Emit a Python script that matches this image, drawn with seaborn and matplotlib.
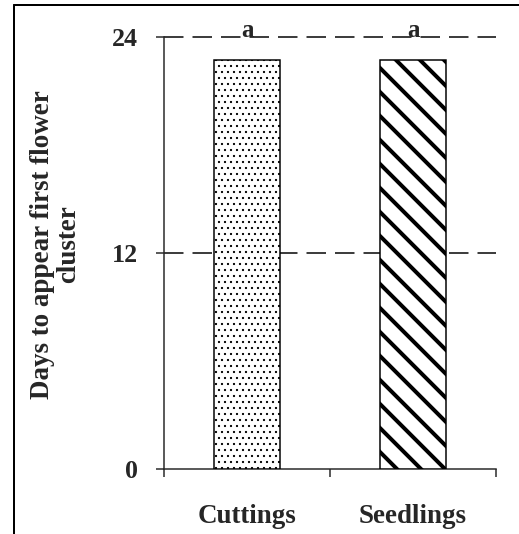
import matplotlib
matplotlib.use('Agg')
import matplotlib.pyplot as plt
import seaborn as sns
import pandas as pd
from matplotlib.lines import Line2D

categories = ['Cuttings', 'Seedlings']
days = [22.7, 22.7]
letters = ['a', 'a']
hatches = ['..', '\\']
hatch_widths = [1.0, 4.0]
yticks = [0, 12, 24]

sns.set_style('ticks')
plt.rcParams['font.family'] = ['Liberation Serif', 'DejaVu Serif']
plt.rcParams['font.weight'] = 'bold'
plt.rcParams['axes.labelweight'] = 'bold'

df = pd.DataFrame({'source': categories, 'days': days})

fig = plt.figure(figsize=(519 / 72, 534 / 72), dpi=72)
ax = fig.add_axes([164 / 519, 1 - 469 / 534, 332 / 519, 432 / 534])

sns.barplot(data=df, x='source', y='days', color='white', edgecolor='black',
            linewidth=1.5, width=0.4, ax=ax, zorder=3)

for bar, h, hw in zip(ax.patches, hatches, hatch_widths):
    bar.set_hatch(h)
    bar.set_facecolor('white')
    if hasattr(bar, 'set_hatch_linewidth'):
        bar.set_hatch_linewidth(hw)

# dashed reference lines behind the bars
for v in yticks[1:]:
    ax.axhline(v, color='black', lw=1.5, ls=(0, (13, 6)), zorder=1, clip_on=False)

for i, t in enumerate(letters):
    ax.text(i, 24.0, t, ha='center', va='baseline', fontsize=25,
            fontweight='bold', zorder=5)

ax.set_xlim(-0.5, 1.5)
ax.set_ylim(0, 24)
ax.set_yticks(yticks)
ax.set_xticks([-0.5, 0.5, 1.5])
ax.set_xticklabels(['', '', ''])
ax.set_xticks([0, 1], minor=True)
ax.set_xticklabels(categories, minor=True)
ax.tick_params(axis='x', which='minor', length=0, pad=35, labelsize=27)
ax.tick_params(axis='x', which='major', length=8, width=1.5)
ax.tick_params(axis='y', length=8, width=1.5, labelsize=26, pad=18)
for lab in ax.get_yticklabels() + ax.get_xticklabels(minor=True):
    lab.set_fontweight('bold')

sns.despine(ax=ax)
for s in ['left', 'bottom']:
    ax.spines[s].set_linewidth(1.5)

ax.set_xlabel('')
ax.set_ylabel('Days to appear first flower\ncluster', fontsize=27,
              fontweight='bold', linespacing=1.05)
ax.yaxis.set_label_coords(-0.25, 0.52)

# frame lines at top and left of the picture
fig.add_artist(Line2D([14 / 519, 14 / 519], [0, 1 - 5 / 534], color='black',
                      lw=2, transform=fig.transFigure))
fig.add_artist(Line2D([14 / 519, 1], [1 - 5 / 534, 1 - 5 / 534], color='black',
                      lw=2, transform=fig.transFigure))

fig.savefig('out.png', dpi=72)
